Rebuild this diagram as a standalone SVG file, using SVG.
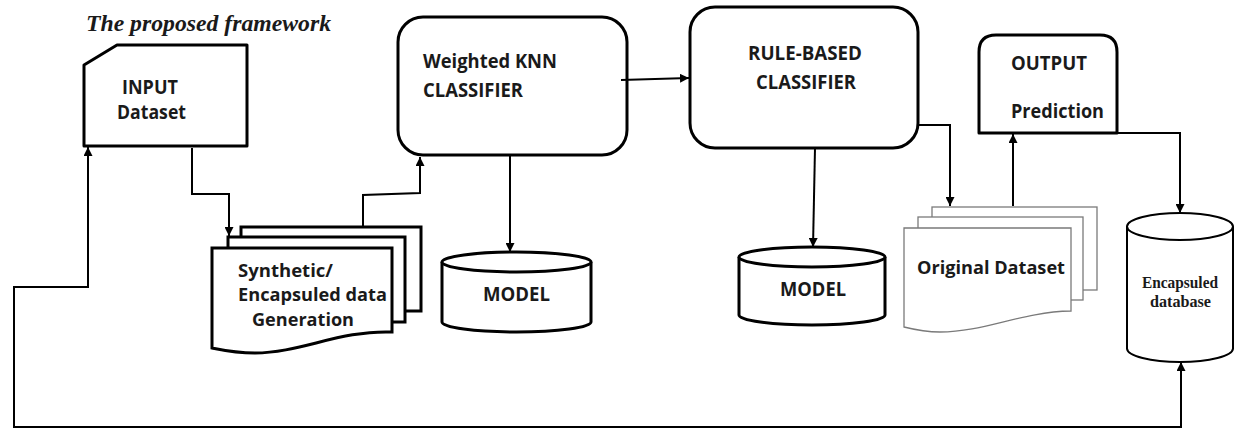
<svg xmlns="http://www.w3.org/2000/svg" width="1234" height="429" viewBox="0 0 1234 429">
<style>
.box{fill:#fff;stroke:#000;stroke-width:3;stroke-linejoin:round}
.doc{fill:#fff;stroke:#000;stroke-width:3}
.gdoc{fill:#fff;stroke:#7a7a7a;stroke-width:1.3}
.cyl{fill:#fff;stroke:#000;stroke-width:3}
.cyl2{fill:#fff;stroke:#000;stroke-width:2}
.t{font-family:"Open Sans","Liberation Sans",sans-serif;font-weight:bold;fill:#1a1a1a}
.ts{font-family:"Liberation Serif","DejaVu Serif",serif;font-weight:bold;fill:#1a1a1a}
.c{fill:none;stroke:#000;stroke-width:2}
</style>
<defs>
<marker id="ah" viewBox="0 0 10 10" refX="10" refY="5" markerWidth="9" markerHeight="9" markerUnits="userSpaceOnUse" orient="auto-start-reverse">
<path d="M0,0 L10,5 L0,10 Z" fill="#000"/>
</marker>
</defs>

<text class="ts" x="86" y="31" font-size="23" font-style="italic" textLength="245" lengthAdjust="spacingAndGlyphs">The proposed framework</text>

<g id="input">
<path class="box" d="M84,65 L117,45 H247 V146 H84 Z"/>
<text class="t" x="122" y="94" font-size="19" textLength="56" lengthAdjust="spacingAndGlyphs">INPUT</text>
<text class="t" x="117" y="119" font-size="19" textLength="69" lengthAdjust="spacingAndGlyphs">Dataset</text>
</g>

<g id="synthetic">
<rect class="doc" x="241" y="227" width="180" height="84"/>
<rect class="doc" x="228" y="237" width="177" height="85"/>
<path class="doc" d="M212,248 H392 V332 C340,330 300,353 255,353 C235,353 222,350 212,348 Z"/>
<text class="t" x="238" y="277" font-size="17" textLength="95" lengthAdjust="spacingAndGlyphs">Synthetic/</text>
<text class="t" x="238" y="301" font-size="17" textLength="149" lengthAdjust="spacingAndGlyphs">Encapsuled data</text>
<text class="t" x="252" y="326" font-size="17" textLength="102" lengthAdjust="spacingAndGlyphs">Generation</text>
</g>

<g id="knn">
<rect class="box" x="398" y="17" width="229" height="138" rx="25"/>
<text class="t" x="423" y="68" font-size="19" textLength="134" lengthAdjust="spacingAndGlyphs">Weighted KNN</text>
<text class="t" x="423" y="97" font-size="19" textLength="100" lengthAdjust="spacingAndGlyphs">CLASSIFIER</text>
</g>

<g id="model1">
<path class="cyl" d="M442,262 V322 A74.5,10 0 0 0 591,322 V262"/>
<ellipse class="cyl" cx="516.5" cy="262" rx="74.5" ry="10"/>
<text class="t" x="483" y="301" font-size="19" textLength="67" lengthAdjust="spacingAndGlyphs">MODEL</text>
</g>

<g id="rule">
<rect class="box" x="690" y="7" width="228" height="141" rx="25"/>
<text class="t" x="748" y="60" font-size="19" textLength="114" lengthAdjust="spacingAndGlyphs">RULE-BASED</text>
<text class="t" x="756" y="89" font-size="19" textLength="100" lengthAdjust="spacingAndGlyphs">CLASSIFIER</text>
</g>

<g id="model2">
<path class="cyl" d="M739,257 V315 A73,10 0 0 0 885,315 V257"/>
<ellipse class="cyl" cx="812" cy="257" rx="73" ry="10"/>
<text class="t" x="780" y="296" font-size="19" textLength="66" lengthAdjust="spacingAndGlyphs">MODEL</text>
</g>

<g id="original">
<rect class="gdoc" x="932" y="207" width="165" height="83"/>
<rect class="gdoc" x="918" y="217" width="165" height="83"/>
<path class="gdoc" d="M904,228 H1071 V311 C1020,312 985,332 940,332 C925,332 912,329 904,327 Z"/>
<text class="t" x="917" y="274" font-size="18" textLength="148" lengthAdjust="spacingAndGlyphs">Original Dataset</text>
</g>

<g id="output">
<path class="box" d="M979,133 V52 Q979,35 996,35 H1100 Q1117,35 1117,52 V133 Z"/>
<text class="t" x="1011" y="70" font-size="19" textLength="76" lengthAdjust="spacingAndGlyphs">OUTPUT</text>
<text class="t" x="1011" y="118" font-size="19" textLength="93" lengthAdjust="spacingAndGlyphs">Prediction</text>
</g>

<g id="encapsuled">
<path class="cyl2" d="M1127,226.5 V348.5 A53,13.5 0 0 0 1233,348.5 V226.5"/>
<ellipse class="cyl2" cx="1180" cy="226.5" rx="53" ry="13.5"/>
<text class="ts" x="1142" y="288" font-size="16" textLength="76" lengthAdjust="spacingAndGlyphs">Encapsuled</text>
<text class="ts" x="1150" y="307" font-size="16" textLength="61" lengthAdjust="spacingAndGlyphs">database</text>
</g>

<g id="connectors">
<path class="c" d="M192,148 V194 H229 V236" marker-end="url(#ah)"/>
<path class="c" d="M363,227 V195 L420,193 V157" marker-end="url(#ah)"/>
<path class="c" d="M621,80 L689,78" marker-end="url(#ah)"/>
<path class="c" d="M510,155 V252" marker-end="url(#ah)"/>
<path class="c" d="M815,148 L813,247" marker-end="url(#ah)"/>
<path class="c" d="M918,125 H950 V206" marker-end="url(#ah)"/>
<path class="c" d="M1013,206 V134" marker-end="url(#ah)"/>
<path class="c" d="M1117,133 H1180 V213" marker-end="url(#ah)"/>
<path class="c" d="M1181,362 V427 H14 V287 H88 V147" marker-start="url(#ah)" marker-end="url(#ah)"/>
</g>
</svg>
